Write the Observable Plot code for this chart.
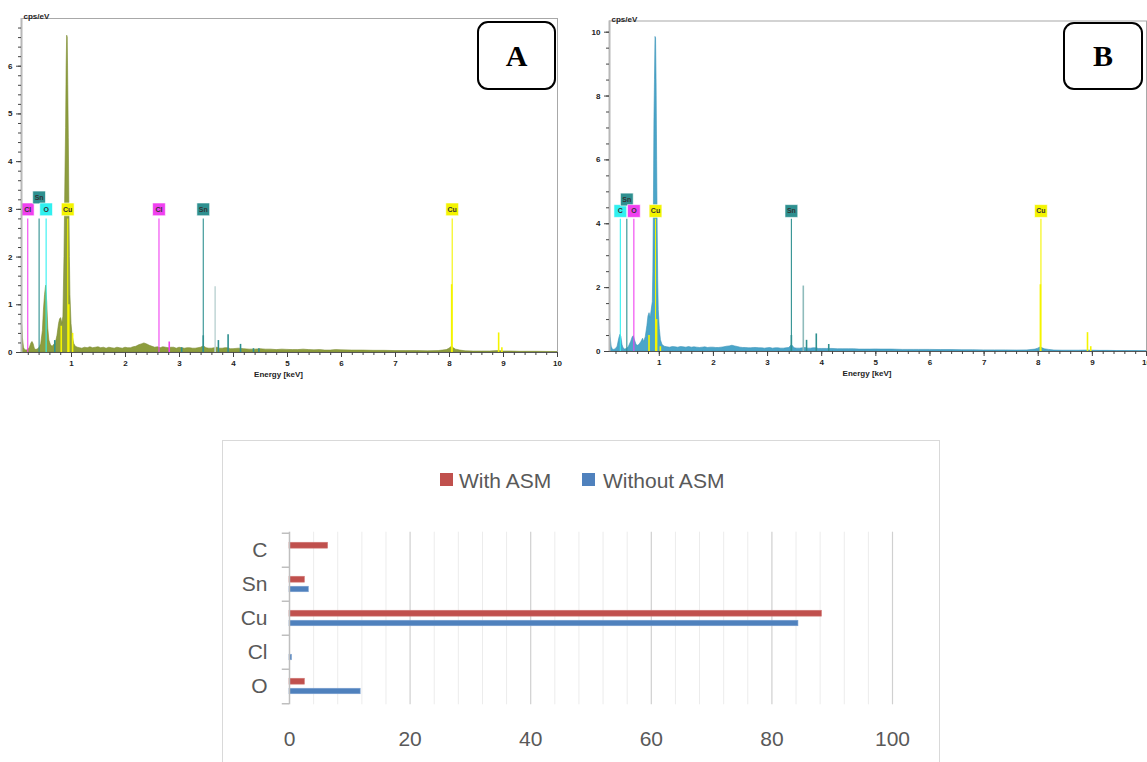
<!DOCTYPE html>
<html><head><meta charset="utf-8">
<script src="https://cdn.jsdelivr.net/npm/d3@7"></script>
<script src="https://cdn.jsdelivr.net/npm/@observablehq/plot@0.6"></script>
<style>
body{margin:0;background:#fff;}
#root{position:relative;width:1147px;height:762px;overflow:hidden;background:#fff;font-family:"Liberation Sans",Arial,sans-serif;}
.panel{position:absolute;}
.badge{position:absolute;border:2.5px solid #000;border-radius:11px;background:#fff;font-family:"Liberation Serif","DejaVu Serif",serif;font-weight:bold;font-size:30px;display:flex;align-items:center;justify-content:center;box-sizing:border-box;color:#000;}
#barbox{position:absolute;left:222px;top:440px;width:718px;height:340px;border:1.5px solid #d9d9d9;box-sizing:border-box;}
.leg{position:absolute;font-size:21px;color:#595959;line-height:1;}
.sw{position:absolute;width:13px;height:13px;}
</style></head><body><div id="root"></div>
<script>
// ---------- Spectrum A (with ASM) ----------
const energyA = [0.08,0.09,0.10,0.12,0.14,0.17,0.20,0.23,0.26,0.28,0.30,0.32,0.35,0.38,0.41,0.44,0.47,0.49,0.51,0.53,0.55,0.57,0.59,0.62,0.65,0.68,0.71,0.74,0.77,0.79,0.81,0.83,0.85,0.87,0.89,0.90,0.91,0.92,0.93,0.94,0.95,0.96,0.97,0.98,1.00,1.02,1.05,1.08,1.12,1.16,1.20,1.25,1.30,1.35,1.40,1.45,1.50,1.55,1.60,1.65,1.70,1.75,1.80,1.85,1.90,1.95,2.00,2.05,2.10,2.15,2.20,2.25,2.30,2.35,2.40,2.45,2.50,2.55,2.60,2.65,2.70,2.75,2.80,2.85,2.90,2.95,3.00,3.05,3.10,3.15,3.20,3.25,3.30,3.35,3.40,3.45,3.50,3.55,3.60,3.65,3.70,3.75,3.80,3.85,3.90,3.95,4.00,4.10,4.20,4.30,4.40,4.50,4.60,4.70,4.80,4.90,5.00,5.10,5.20,5.30,5.40,5.50,5.60,5.70,5.80,5.90,6.00,6.20,6.40,6.60,6.80,7.00,7.20,7.40,7.60,7.80,7.95,8.00,8.02,8.05,8.08,8.12,8.20,8.30,8.45,8.60,8.75,8.90,9.00,9.15,9.30,9.45,9.60,9.80,10.0];
const cpsA    = [0.63,0.55,0.30,0.10,0.05,0.04,0.06,0.10,0.20,0.22,0.17,0.08,0.05,0.07,0.10,0.18,0.45,0.90,1.20,1.40,1.05,0.50,0.25,0.15,0.12,0.16,0.20,0.35,0.60,0.70,0.72,0.60,0.75,2.00,3.90,4.70,6.00,6.64,6.60,5.60,4.50,3.20,2.00,1.20,0.60,0.35,0.18,0.12,0.10,0.09,0.08,0.10,0.09,0.11,0.09,0.10,0.11,0.09,0.10,0.08,0.10,0.09,0.08,0.10,0.09,0.08,0.10,0.09,0.09,0.11,0.12,0.15,0.17,0.19,0.17,0.14,0.12,0.10,0.11,0.09,0.11,0.10,0.09,0.10,0.10,0.08,0.10,0.09,0.08,0.09,0.09,0.08,0.08,0.09,0.10,0.13,0.09,0.08,0.08,0.09,0.10,0.08,0.08,0.09,0.09,0.07,0.07,0.08,0.07,0.06,0.06,0.07,0.06,0.06,0.05,0.06,0.055,0.05,0.05,0.06,0.05,0.045,0.05,0.04,0.04,0.05,0.045,0.04,0.04,0.035,0.035,0.03,0.03,0.03,0.025,0.03,0.05,0.08,0.10,0.12,0.09,0.06,0.04,0.025,0.02,0.02,0.02,0.03,0.02,0.02,0.015,0.015,0.015,0.012,0.01];

// element markers A
const markElA = ["Cl","Sn","O","Cu","Cl","Sn","Cu"];
const markEA  = [0.19,0.40,0.53,0.93,2.62,3.44,8.05];
const markLabelYA = [3.0,3.25,3.0,3.0,3.0,3.0,3.0];
const markTopA = 2.8;
// intensity lines A
const lineElA = ["Sn","Cu","Cu","Cu","Cl","Sn","Sn","SnL","Sn","Sn","Sn","Sn","Sn","Cu","Cu","Cu"];
const lineEA  = [0.69,0.81,0.95,1.02,2.81,3.04,3.44,3.66,3.72,3.90,4.13,4.37,4.47,8.04,8.91,8.97];
const lineHA  = [0.25,0.55,1.00,0.40,0.22,0.10,0.35,1.38,0.25,0.37,0.17,0.08,0.08,1.42,0.41,0.10];

// ---------- Spectrum B (without ASM) ----------
const energyB = [0.09,0.10,0.12,0.14,0.17,0.20,0.23,0.26,0.28,0.30,0.32,0.34,0.37,0.40,0.44,0.48,0.51,0.53,0.55,0.58,0.61,0.64,0.67,0.70,0.72,0.75,0.78,0.80,0.82,0.84,0.86,0.88,0.89,0.90,0.91,0.92,0.93,0.94,0.95,0.96,0.97,0.98,0.99,1.01,1.03,1.06,1.10,1.15,1.20,1.25,1.30,1.35,1.40,1.45,1.50,1.55,1.60,1.65,1.70,1.75,1.80,1.85,1.90,1.95,2.00,2.05,2.10,2.15,2.20,2.25,2.30,2.35,2.40,2.45,2.50,2.55,2.60,2.65,2.70,2.75,2.80,2.85,2.90,2.95,3.00,3.05,3.10,3.15,3.20,3.25,3.30,3.35,3.40,3.45,3.50,3.55,3.60,3.65,3.70,3.75,3.80,3.85,3.90,3.95,4.00,4.10,4.20,4.30,4.40,4.50,4.60,4.70,4.80,4.90,5.00,5.10,5.20,5.30,5.40,5.50,5.60,5.70,5.80,5.90,6.00,6.20,6.40,6.60,6.80,7.00,7.20,7.40,7.60,7.80,7.95,8.00,8.02,8.05,8.08,8.12,8.20,8.30,8.45,8.60,8.75,8.90,9.00,9.15,9.30,9.45,9.60,9.80,10.0];
const cpsB    = [0.62,0.45,0.15,0.06,0.05,0.08,0.15,0.40,0.52,0.45,0.20,0.10,0.06,0.08,0.15,0.30,0.45,0.48,0.35,0.20,0.18,0.22,0.30,0.40,0.30,0.45,0.80,1.10,1.20,1.05,1.30,1.55,2.50,4.50,7.20,8.50,9.85,9.80,8.40,6.00,3.80,2.20,1.30,0.70,0.35,0.20,0.15,0.13,0.12,0.14,0.13,0.12,0.14,0.13,0.12,0.14,0.12,0.13,0.12,0.11,0.12,0.13,0.11,0.12,0.12,0.11,0.11,0.12,0.13,0.15,0.16,0.18,0.16,0.14,0.12,0.11,0.11,0.10,0.10,0.11,0.11,0.10,0.10,0.09,0.10,0.11,0.09,0.10,0.10,0.09,0.09,0.10,0.11,0.20,0.10,0.09,0.09,0.10,0.11,0.09,0.09,0.10,0.10,0.08,0.08,0.08,0.08,0.07,0.07,0.07,0.07,0.06,0.06,0.06,0.065,0.06,0.06,0.06,0.055,0.05,0.05,0.05,0.05,0.05,0.05,0.045,0.045,0.04,0.04,0.035,0.035,0.035,0.03,0.035,0.06,0.09,0.11,0.13,0.10,0.07,0.05,0.03,0.025,0.025,0.025,0.03,0.025,0.02,0.02,0.015,0.015,0.012,0.01];

const markElB = ["C","Sn","O","Cu","Sn","Cu"];
const markEB  = [0.28,0.40,0.53,0.93,3.44,8.05];
const markLabelYB = [4.4,4.76,4.4,4.4,4.4,4.4];
const markTopB = 4.14;
const lineElB = ["Cu","Cu","Cu","Sn","SnL","Sn","Sn","Sn","Cu","Cu","Cu"];
const lineEB  = [0.81,0.95,1.02,3.44,3.66,3.72,3.90,4.13,8.04,8.91,8.97];
const lineHB  = [0.50,1.00,0.15,0.50,2.05,0.35,0.55,0.22,2.09,0.59,0.15];

// ---------- Bar chart ----------
const elements   = ["C","Sn","Cu","Cl","O"];
const withASM    = [6.4, 2.55, 88.3, 0, 2.55];
const withoutASM = [0, 3.2, 84.4, 0.4, 11.8];
const barTicks   = [0,20,40,60,80,100];
const seriesNames = ["With ASM","Without ASM"];

// ---------- styles ----------
const colorsA = {Cl:"#f040f0", Sn:"#2e9090", O:"#30f0f0", Cu:"#f4f400", SnL:"#c4d8d8"};
const colorsB = {C:"#30f0f0", Sn:"#2e9090", O:"#f040f0", Cu:"#f4f400", SnL:"#8fbcbc"};

function spectrum(cfg){
  const spec = cfg.energy.map((e,i)=>({e, c: cfg.cps[i]}));
  const marks = cfg.markEl.map((el,i)=>({el, e: cfg.markE[i], ly: cfg.markLY[i], col: cfg.colors[el]}));
  const lines = cfg.lineEl.map((el,i)=>({e: cfg.lineE[i], h: cfg.lineH[i], col: cfg.colors[el]}));
  const [x0,x1] = cfg.xDomain;
  return Plot.plot({
    width: cfg.width, height: 385,
    marginLeft: cfg.ml, marginRight: cfg.mr, marginTop: cfg.mt, marginBottom: 385 - cfg.bottom,
    x: {domain: cfg.xDomain, label: null}, y: {domain: cfg.yDomain, label: null},
    color: {type: "identity"},
    style: {fontFamily: "'Liberation Sans', Arial, sans-serif", fontSize: "8px", fontWeight: "bold", color: "#333", background: "transparent", overflow: "visible"},
    marks: [
      Plot.frame({stroke: "#a8a8a8", strokeWidth: 1}),
      Plot.areaY(spec, {x: "e", y: "c", fill: cfg.fill, stroke: cfg.edge, strokeWidth: 0.6, clip: true}),
      Plot.ruleX(lines, {x: "e", y1: 0, y2: "h", stroke: "col", strokeWidth: 1.6}),
      Plot.ruleX(marks, {x: "e", y1: 0, y2: cfg.top, stroke: "col", strokeWidth: 1.1}),
      Plot.dot(marks, {x: "e", y: "ly", symbol: "square", r: 7.2, fill: "col", stroke: "white", strokeWidth: 0.6}),
      Plot.text(marks, {x: "e", y: "ly", text: "el", fill: "#333", fontSize: 7, fontWeight: "bold"}),
      Plot.ruleY([0], {stroke: "#555", strokeWidth: 1}),
      Plot.ruleX([x0], {stroke: "#b8b8b8", strokeWidth: 2}),
      Plot.axisX(d3.range(1,50).map(i=>i/5), {tickSize: 3, tickFormat: () => "", stroke: "#444", label: null}),
      Plot.axisX(d3.range(1,11), {tickSize: 5, tickPadding: 3, stroke: "#444", fill: "#222", tickFormat: d3.format("d"), label: null}),
      Plot.axisY(cfg.yMinor, {tickSize: 3, tickFormat: () => "", stroke: "#444", label: null}),
      Plot.axisY(cfg.yMajor, {tickSize: 5, tickPadding: 4, stroke: "#444", fill: "#222", tickFormat: d3.format("d"), label: null}),
      Plot.text(["cps/eV"], {text: d => d, frameAnchor: "top-left", dx: 2, dy: -5, textAnchor: "start", fill: "#222"}),
      Plot.text(["Energy [keV]"], {text: d => d, frameAnchor: "bottom", dx: -11, dy: 24, fill: "#222"})
    ]
  });
}

const root = document.getElementById("root");

const pA = spectrum({
  width: 570, ml: 21, mr: 13, mt: 18, bottom: 352,
  xDomain: [0.074, 10], yDomain: [0, 7],
  yMajor: d3.range(0,7), yMinor: d3.range(0,35).map(i=>i/5),
  energy: energyA, cps: cpsA, fill: "#8d9d3e", edge: "#7c8c30",
  markEl: markElA, markE: markEA, markLY: markLabelYA, top: markTopA,
  lineEl: lineElA, lineE: lineEA, lineH: lineHA, colors: colorsA
});
pA.classList.add("panel"); pA.style.left = "0px"; pA.style.top = "0px";
root.appendChild(pA);

const pB = spectrum({
  width: 567, ml: 29, mr: 1, mt: 20.5, bottom: 351,
  xDomain: [0.08, 10], yDomain: [0, 10.35],
  yMajor: [0,2,4,6,8,10], yMinor: d3.range(0,21).map(i=>i/2),
  energy: energyB, cps: cpsB, fill: "#4aa5c9", edge: "#3a94b8",
  markEl: markElB, markE: markEB, markLY: markLabelYB, top: markTopB,
  lineEl: lineElB, lineE: lineEB, lineH: lineHB, colors: colorsB
});
pB.classList.add("panel"); pB.style.left = "580px"; pB.style.top = "0px";
root.appendChild(pB);

// badges
for (const [t,l,tp,w,h] of [["A",477,21,79,69],["B",1063,22,80,68]]) {
  const b = document.createElement("div");
  b.className = "badge"; b.textContent = t;
  Object.assign(b.style, {left: l+"px", top: tp+"px", width: w+"px", height: h+"px"});
  root.appendChild(b);
}

// bar chart frame + legend
const box = document.createElement("div"); box.id = "barbox"; root.appendChild(box);
const legendColors = ["#C0504D","#4F81BD"];
const legPos = [[440,459],[582,603]];
seriesNames.forEach((n,i)=>{
  const s = document.createElement("div"); s.className = "sw";
  Object.assign(s.style, {left: legPos[i][0]+"px", top: "473px", background: legendColors[i]});
  root.appendChild(s);
  const t = document.createElement("div"); t.className = "leg"; t.textContent = n;
  Object.assign(t.style, {left: legPos[i][1]+"px", top: "470px"});
  root.appendChild(t);
});

const rowsWith = elements.map((el,i)=>({el, v: withASM[i]}));
const rowsWithout = elements.map((el,i)=>({el, v: withoutASM[i]}));
const half = 17.25;
const minorGrid = d3.range(1,26).map(i=>i*4).filter(v => v % 20 !== 0);
const bars = Plot.plot({
  width: 718, height: 240,
  marginLeft: 67, marginRight: 48, marginTop: 11.7, marginBottom: 240 - 184.3,
  x: {domain: [0,100], label: null}, y: {domain: elements, padding: 0, label: null},
  style: {fontFamily: "'Liberation Sans', Arial, sans-serif", fontSize: "21px", color: "#595959", background: "transparent", overflow: "visible"},
  marks: [
    Plot.ruleX(minorGrid, {stroke: "#ececec", strokeWidth: 1}),
    Plot.ruleX(barTicks.slice(1), {stroke: "#d0d0d0", strokeWidth: 1.2}),
    Plot.barX(rowsWith, {x: "v", y: "el", fill: "#C0504D", stroke: "#d27a77", strokeWidth: 0.6, insetTop: half - 8, insetBottom: half + 1.6}),
    Plot.barX(rowsWithout, {x: "v", y: "el", fill: "#4F81BD", stroke: "#7a9fd0", strokeWidth: 0.6, insetTop: half + 2, insetBottom: half - 8}),
    Plot.ruleX([0], {stroke: "#bfbfbf", strokeWidth: 1.5}),
    Plot.ruleY(elements, {y: d => d, x1: -1.2, x2: 0, dy: -half, stroke: "#bfbfbf", strokeWidth: 1.5}),
    Plot.ruleY([elements[elements.length-1]], {y: d => d, x1: -1.2, x2: 0, dy: half, stroke: "#bfbfbf", strokeWidth: 1.5}),
    Plot.axisY({tickSize: 0, tickPadding: 22, fill: "#595959", fontSize: 21, label: null}),
    Plot.axisX(barTicks, {tickSize: 0, tickPadding: 26, fill: "#595959", fontSize: 21, label: null})
  ]
});
bars.classList.add("panel"); bars.style.left = "222px"; bars.style.top = "520px";
root.appendChild(bars);
</script></body></html>
